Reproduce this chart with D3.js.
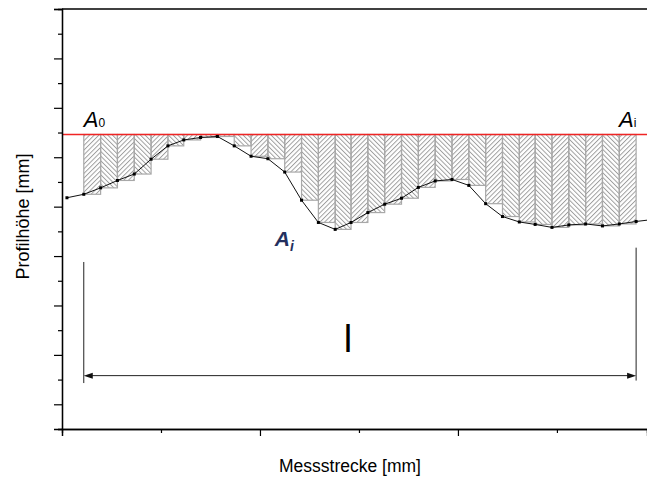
<!DOCTYPE html>
<html>
    <head>
        <meta charset="utf-8">
        <script src="https://d3js.org/d3.v7.min.js"></script>
        <title>Profil</title>
        <style>
            body { margin: 0; background-color: #fff }
            text { font-family: "Liberation Sans", Arial, sans-serif }
        </style>
    </head>
    <body>
        <script>
            /* profile samples */
            const messX = [0.05, 0.22, 0.39, 0.56, 0.73, 0.90, 1.07, 1.23, 1.40, 1.57, 1.74, 1.91,
                           2.08, 2.25, 2.42, 2.59, 2.76, 2.92, 3.09, 3.26, 3.43, 3.60, 3.77, 3.94,
                           4.11, 4.28, 4.45, 4.62, 4.78, 4.95, 5.12, 5.29, 5.46, 5.63, 5.80, 5.97]
            const profilY = [4.18, 4.25, 4.38, 4.53, 4.66, 4.96, 5.23, 5.35, 5.40, 5.42, 5.23, 5.02,
                             4.97, 4.70, 4.13, 3.68, 3.54, 3.68, 3.88, 4.05, 4.17, 4.39, 4.52, 4.55,
                             4.43, 4.06, 3.80, 3.69, 3.64, 3.58, 3.63, 3.65, 3.61, 3.65, 3.70, 3.74]
            const refLevel = 5.46          // red line
            const firstBar = 1, lastBar = 34  // bars between these samples
            const yTicks = [-0.5, 0, 0.5, 1, 1.5, 2, 2.5, 3, 3.5, 4, 4.5, 5, 5.5, 6, 6.5, 7, 7.5, 8]
            const xTicks = [0, 1, 2, 3, 4, 5]

            const width = 647
            const height = 477
            const margin = { top: 9, right: 0, bottom: 48, left: 62 }

            const xScale = d3.scaleLinear().domain([0, 5.91]).range([margin.left, width - margin.right])
            const yScale = d3.scaleLinear().domain([-0.5, 8]).range([height - margin.bottom, margin.top])

            const svg = d3.select('body')
                .append('svg')
                    .attr('width', width)
                    .attr('height', height)

            /* herringbone hatching, two directions */
            const defs = svg.append('defs')
            ;[['hatchA', 45], ['hatchB', -45]].forEach(([id, ang]) => {
                defs.append('pattern')
                    .attr('id', id)
                    .attr('patternUnits', 'userSpaceOnUse')
                    .attr('width', 3.3)
                    .attr('height', 3.3)
                    .attr('patternTransform', `rotate(${ang})`)
                  .append('line')
                    .attr('x1', 0.5).attr('y1', 0)
                    .attr('x2', 0.5).attr('y2', 3.3)
                    .attr('stroke', '#969696')
                    .attr('stroke-width', 0.9)
            })
            defs.append('clipPath').attr('id', 'plot')
              .append('rect')
                .attr('x', margin.left).attr('y', margin.top)
                .attr('width', width - margin.left).attr('height', height - margin.top - margin.bottom)

            const pts = messX.map((x, i) => ({ x, y: profilY[i], i }))
            const bars = pts.slice(firstBar, lastBar)

            svg.append('g')
                .selectAll('rect')
                .data(bars)
                .join('rect')
                    .attr('x', d => xScale(d.x))
                    .attr('y', yScale(refLevel))
                    .attr('width', d => xScale(messX[d.i + 1]) - xScale(d.x))
                    .attr('height', d => Math.max(0, yScale(d.y) - yScale(refLevel)))
                    .attr('fill', d => d.i % 2 ? 'url(#hatchA)' : 'url(#hatchB)')
                    .attr('stroke', '#a8a8a8')
                    .attr('stroke-width', 1.2)

            /* reference line */
            svg.append('line')
                .attr('x1', margin.left).attr('x2', width)
                .attr('y1', yScale(refLevel)).attr('y2', yScale(refLevel))
                .attr('stroke', '#f02424')
                .attr('stroke-width', 1.6)

            /* profile curve */
            const line = d3.line().x(d => xScale(d.x)).y(d => yScale(d.y))
            const curve = svg.append('g').attr('clip-path', 'url(#plot)')
            curve.append('path')
                .datum(pts)
                .attr('d', line)
                .attr('fill', 'none')
                .attr('stroke', '#111')
                .attr('stroke-width', 1)
            curve.selectAll('rect')
                .data(pts)
                .join('rect')
                    .attr('x', d => xScale(d.x) - 1.5)
                    .attr('y', d => yScale(d.y) - 1.5)
                    .attr('width', 3)
                    .attr('height', 3)
                    .attr('fill', '#000')

            /* axes: majors and minors drawn separately */
            const yAxis = svg.append('g').attr('transform', `translate(${margin.left},0)`)
            yAxis.append('g')
                .call(d3.axisLeft(yScale).tickValues(yTicks.filter(v => Number.isInteger(v))).tickSize(8).tickFormat(''))
            yAxis.append('g')
                .call(d3.axisLeft(yScale).tickValues(yTicks.filter(v => !Number.isInteger(v))).tickSize(4).tickFormat(''))

            const xAxis = svg.append('g').attr('transform', `translate(0,${height - margin.bottom})`)
            xAxis.append('g')
                .call(d3.axisBottom(xScale).tickValues(xTicks.filter(v => v % 2 === 0)).tickSize(7).tickFormat(''))
            xAxis.append('g')
                .call(d3.axisBottom(xScale).tickValues(xTicks.filter(v => v % 2 === 1)).tickSize(4).tickFormat(''))
            svg.selectAll('.domain').attr('stroke', '#000').attr('stroke-width', 1.3)
            svg.selectAll('.tick line').attr('stroke', '#000').attr('stroke-width', 1.2)

            svg.append('line')
                .attr('x1', margin.left).attr('x2', width)
                .attr('y1', margin.top).attr('y2', margin.top)
                .attr('stroke', '#000').attr('stroke-width', 1.3)

            /* axis titles */
            svg.append('text')
                .attr('x', 350)
                .attr('y', 472)
                .attr('text-anchor', 'middle')
                .attr('font-size', 17.5)
                .text('Messstrecke [mm]')
            svg.append('text')
                .attr('transform', `translate(29,${yScale(3.8)}) rotate(-90)`)
                .attr('text-anchor', 'middle')
                .attr('font-size', 18)
                .text('Profilhöhe [mm]')

            /* labels A0, Ai */
            const a0 = svg.append('text')
                .attr('x', xScale(messX[firstBar]))
                .attr('y', yScale(refLevel) - 8)
                .attr('font-size', 22)
            a0.append('tspan').attr('font-style', 'italic').text('A')
            a0.append('tspan').attr('font-size', 12).text('0')
            const ai = svg.append('text')
                .attr('x', xScale(messX[lastBar]) - 17)
                .attr('y', yScale(refLevel) - 8)
                .attr('font-size', 22)
            ai.append('tspan').attr('font-style', 'italic').text('A')
            ai.append('tspan').attr('font-size', 12).text('i')

            const aiBlue = svg.append('text')
                .attr('x', xScale(2.15))
                .attr('y', yScale(3.2))
                .attr('font-family', '"DejaVu Serif", serif')
                .attr('font-weight', 'bold')
                .attr('font-style', 'italic')
                .attr('font-size', 21)
                .attr('fill', '#24305e')
            aiBlue.append('tspan').text('A')
            aiBlue.append('tspan').attr('font-size', 14).attr('dy', 5).text('i')

            /* length dimension l */
            const xa = xScale(messX[firstBar]), xb = xScale(messX[lastBar])
            const yArrow = yScale(0.58)
            svg.append('line')
                .attr('x1', xa).attr('x2', xa)
                .attr('y1', yScale(2.88)).attr('y2', yScale(0.43))
                .attr('stroke', '#222').attr('stroke-width', 1)
            svg.append('line')
                .attr('x1', xb).attr('x2', xb)
                .attr('y1', yScale(3.17)).attr('y2', yScale(0.48))
                .attr('stroke', '#222').attr('stroke-width', 1)
            svg.append('line')
                .attr('x1', xa + 6).attr('x2', xb - 6)
                .attr('y1', yArrow).attr('y2', yArrow)
                .attr('stroke', '#222').attr('stroke-width', 1)
            svg.append('path')
                .attr('d', `M${xa},${yArrow}l9,-3v6z M${xb},${yArrow}l-9,-3v6z`)
                .attr('fill', '#111')
            svg.append('text')
                .attr('x', (xa + xb) / 2 - 12)
                .attr('y', yScale(1.05))
                .attr('text-anchor', 'middle')
                .attr('font-size', 38)
                .text('l')
        </script>
    </body>
</html>
